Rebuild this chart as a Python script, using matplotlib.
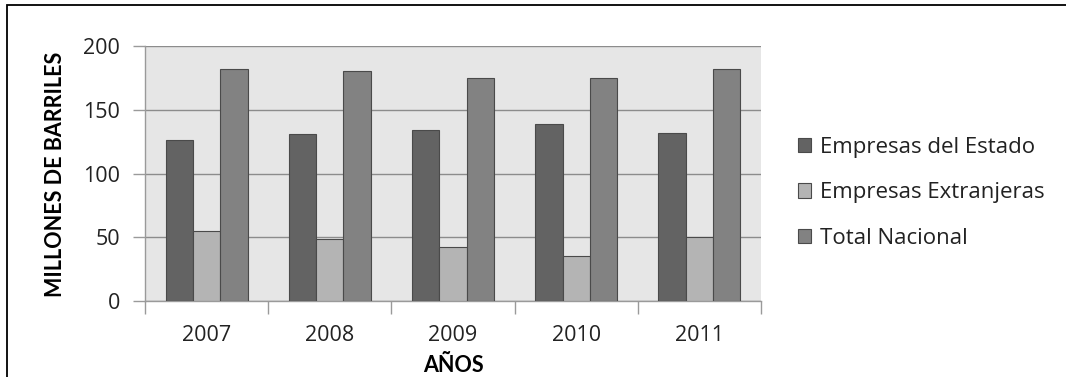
import matplotlib
matplotlib.use("Agg")
import matplotlib.pyplot as plt
import numpy as np
from matplotlib.patches import Rectangle

# Producción de petróleo (millones de barriles)
years = ["2007", "2008", "2009", "2010", "2011"]
series_names = ["Empresas del Estado", "Empresas Extranjeras", "Total Nacional"]
estado = [126, 131, 134, 139, 132]
extranjeras = [55, 49, 42, 35, 50]
total = [182, 180, 175, 175, 182]
colors = ["#636363", "#b4b4b4", "#828282"]

plt.rcParams["font.family"] = ["Open Sans", "DejaVu Sans"]

W, H = 1066, 377
fig = plt.figure(figsize=(W / 100, H / 100), dpi=100)
fig.patch.set_facecolor("white")

# chart frame
fig.add_artist(Rectangle((7 / W, -0.1), 2.0, (H - 4.5) / H + 0.1,
                         transform=fig.transFigure, fill=False,
                         edgecolor="black", linewidth=1.3))

left, right, top, bottom = 145, 761, 46, 301
ax = fig.add_axes([left / W, 1 - bottom / H, (right - left) / W, (bottom - top) / H])
ax.set_facecolor("#e6e6e6")

x = np.arange(len(years))
w = 1 / 4.5
for i, (vals, name, c) in enumerate(zip([estado, extranjeras, total], series_names, colors)):
    ax.bar(x + (i - 1) * w, vals, width=w, color=c, edgecolor="#4a4a4a",
           linewidth=0.8, label=name, zorder=3)

ax.set_xlim(-0.5, len(years) - 0.5)
ax.set_ylim(0, 200)
ax.set_yticks([0, 50, 100, 150, 200])
ax.yaxis.grid(True, color="#8c8c8c", linewidth=1.0, zorder=1)
ax.set_axisbelow(True)

ax.set_xticks(x)
ax.set_xticklabels(years)
ax.set_xticks(np.arange(len(years) + 1) - 0.5, minor=True)
ax.tick_params(axis="x", which="major", length=0, pad=17, labelsize=15.5, colors="#222222")
ax.tick_params(axis="x", which="minor", length=9, width=1, color="#9a9a9a")
ax.tick_params(axis="y", length=9, width=1, color="#9a9a9a", labelsize=15.5,
               labelcolor="#222222", pad=9)

for s in ["top", "right"]:
    ax.spines[s].set_visible(False)
for s in ["left", "bottom"]:
    ax.spines[s].set_color("#9a9a9a")
    ax.spines[s].set_linewidth(1.0)

# axis titles
bold = dict(fontsize=15.5, fontweight="bold", family=["Lato", "DejaVu Sans"], color="black")
fig.text(56 / W, 1 - 174 / H, "MILLONES DE BARRILES", rotation=90,
         ha="center", va="center", **bold)
fig.text(453 / W, 1 - 372 / H, "AÑOS", ha="center", va="baseline", **bold)

leg = ax.legend(loc="center left", bbox_to_anchor=(1.0, 0.424), frameon=False,
                fontsize=16, handlelength=0.62, handleheight=0.62, handletextpad=0.4,
                labelspacing=1.1, borderaxespad=1.25)
for t in leg.get_texts():
    t.set_color("#222222")

fig.savefig("out.png", dpi=100, facecolor="white")
